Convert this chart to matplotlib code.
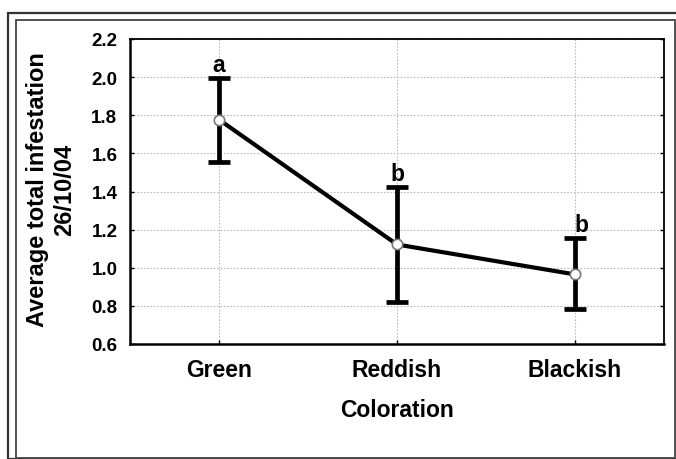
import matplotlib
matplotlib.use("Agg")
import matplotlib.pyplot as plt
from matplotlib.patches import Rectangle

plt.rcParams['font.family'] = ['Liberation Sans', 'DejaVu Sans']
plt.rcParams['font.weight'] = 'bold'

categories = ["Green", "Reddish", "Blackish"]
means = [1.777, 1.122, 0.965]
upper = [1.998, 1.425, 1.158]
lower = [1.553, 0.819, 0.784]
letters = ["a", "b", "b"]
yticks = [0.6, 0.8, 1.0, 1.2, 1.4, 1.6, 1.8, 2.0, 2.2]

W, H = 676, 460
fig = plt.figure(figsize=(W / 100, H / 100), dpi=100)
ax = fig.add_axes([130 / W, 1 - 345 / H, (664 - 130) / W, (345 - 40) / H])

x = list(range(len(categories)))
yerr = [[m - l for m, l in zip(means, lower)], [u - m for m, u in zip(means, upper)]]
ax.errorbar(x, means, yerr=yerr, fmt='none', ecolor='black', elinewidth=3.4,
            capsize=8, capthick=3.4, zorder=3)
ax.plot(x, means, color='black', lw=3.0, zorder=4)
ax.plot(x, means, 'o', ms=7.5, mfc='white', mec='#777777', mew=1.2, zorder=5)

offsets = [0, 0, 5]
for xi, u, let, dx in zip(x, upper, letters, offsets):
    ax.annotate(let, (xi, u), xytext=(dx, 1), textcoords='offset points',
                ha='center', va='bottom', fontsize=16.5, fontweight='bold')

ax.set_xlim(-0.5, 2.5)
ax.set_ylim(0.6, 2.2)
ax.set_yticks(yticks)
ax.set_yticklabels([f"{v:.1f}" for v in yticks])
ax.set_xticks(x)
ax.set_xticklabels(categories)
ax.tick_params(axis='y', direction='in', length=3, labelsize=13.5, pad=9,
               right=True, width=1)
ax.tick_params(axis='x', direction='in', length=3, labelsize=16.5, pad=10, width=1)
for lab in ax.get_xticklabels() + ax.get_yticklabels():
    lab.set_fontweight('bold')

ax.grid(True, color='#bbbbbb', linestyle=(0, (1.5, 1.5)), linewidth=0.8)
ax.set_axisbelow(True)
for s in ['left', 'bottom']:
    ax.spines[s].set_linewidth(1.8)
for s in ['top', 'right']:
    ax.spines[s].set_linewidth(1.3)

ax.set_xlabel("Coloration", fontsize=16.5, fontweight='bold', labelpad=12)
fig.text(51 / W, 1 - 190 / H, "Average total infestation\n26/10/04", rotation=90,
         ha='center', va='center', multialignment='center', fontsize=17,
         fontweight='bold', linespacing=1.2)

# double frame around figure
fig.patches.append(Rectangle((8 / W, 0), 1 - 8 / W + 0.01, 1 - 14 / H,
                             transform=fig.transFigure, fill=False,
                             edgecolor='#333333', lw=1.6))
fig.patches.append(Rectangle((16 / W, 1 / H), (675 - 16) / W, (459 - 21) / H,
                             transform=fig.transFigure, fill=False,
                             edgecolor='#444444', lw=1.3))

fig.savefig("out.png", dpi=100)
